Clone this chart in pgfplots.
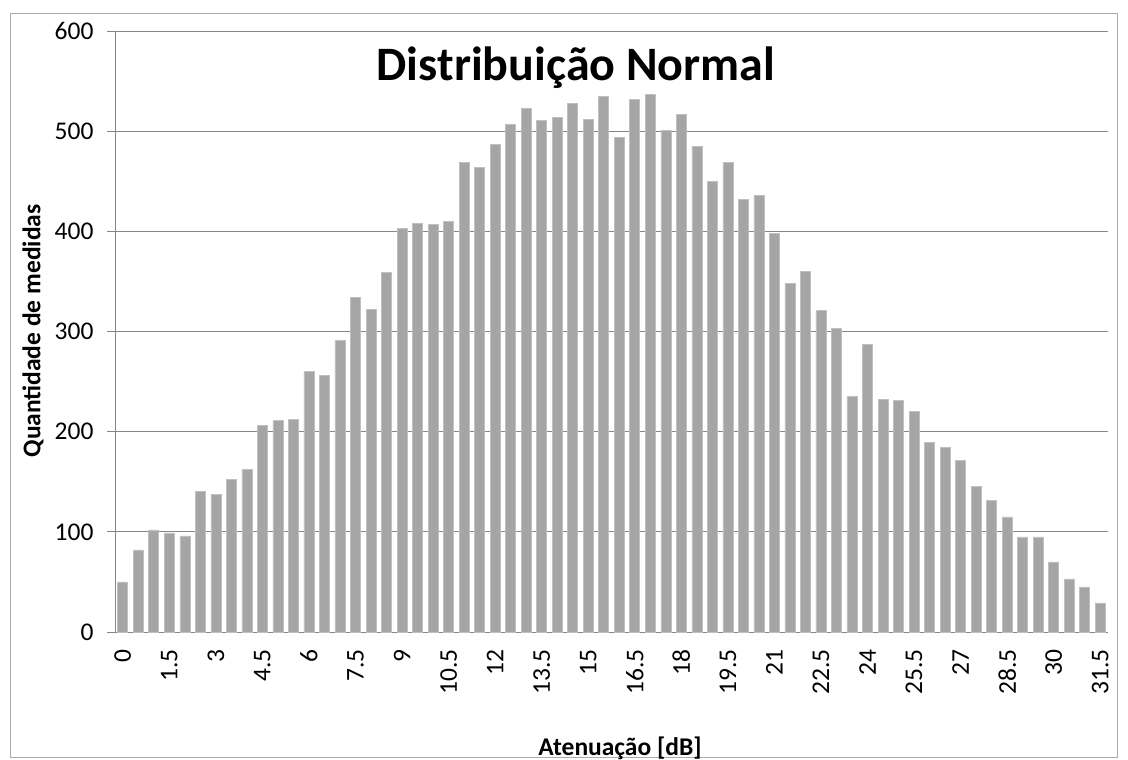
\documentclass[border=0pt]{standalone}
\usepackage{pgfplots}
\pgfplotsset{compat=1.18}
\usepackage{fontspec}
\setmainfont{Carlito}
\definecolor{barc}{HTML}{A5A5A5}
\definecolor{axc}{HTML}{868686}
\begin{document}
\begin{tikzpicture}[x=1pt,y=1pt]
\useasboundingbox (0,0) rectangle (1128,-760);
\draw[axc!70, line width=1pt] (10,-14) rectangle (1117,-757);
\begin{axis}[
  at={(115pt,-632pt)}, anchor=south west,
  scale only axis, width=993pt, height=601pt,
  xmin=-0.5, xmax=63.5, ymin=0, ymax=600,
  ybar, bar width=10pt,
  axis x line*=bottom, axis y line*=left,
  axis line style={axc, line width=1pt},
  /pgf/number format/assume math mode=true,
  ytick={0,100,...,600},
  ymajorgrids, grid style={axc, line width=1pt},
  xtick={0,3,...,63},
  xticklabels={0,1.5,3,4.5,6,7.5,9,10.5,12,13.5,15,16.5,18,19.5,21,22.5,24,25.5,27,28.5,30,31.5},
  x tick label style={rotate=90, anchor=east, font=\fontsize{25.5}{30}\selectfont},
  xticklabel shift=6pt,
  major x tick style={draw=none},
  extra x ticks={-0.5,0.5,...,63.5},
  extra x tick labels={},
  extra x tick style={tick style={draw=axc, line width=1pt}, tick align=outside, grid=none},
  y tick label style={font=\fontsize{25.5}{30}\selectfont},
  yticklabel shift=10pt,
  ytick style={draw=axc, line width=1pt}, tick align=outside, major tick length=8pt,
  tick label style={text=black},
]
\addplot[fill=barc, draw=barc!70!white, line width=0.6pt] coordinates {
(0,50) (1,82) (2,102) (3,99) (4,96) (5,140) (6,137) (7,152) (8,162) (9,206)
(10,211) (11,212) (12,260) (13,256) (14,291) (15,334) (16,322) (17,359) (18,403) (19,408)
(20,407) (21,410) (22,469) (23,464) (24,487) (25,507) (26,523) (27,511) (28,514) (29,528)
(30,512) (31,535) (32,494) (33,532) (34,537) (35,501) (36,517) (37,485) (38,450) (39,469)
(40,432) (41,436) (42,398) (43,348) (44,360) (45,321) (46,303) (47,235) (48,287) (49,232)
(50,231) (51,220) (52,189) (53,184) (54,171) (55,145) (56,131) (57,115) (58,95) (59,95)
(60,70) (61,53) (62,45) (63,29)};
\end{axis}
\node[font=\fontsize{48}{56}\selectfont\bfseries] at (576,-68) {Distribuição Normal};
\node[font=\fontsize{25.5}{30}\selectfont\bfseries] at (620,-748) {Atenuação [dB]};
\node[font=\fontsize{25.5}{30}\selectfont\bfseries, rotate=90] at (33,-331) {Quantidade de medidas};
\end{tikzpicture}
\end{document}
